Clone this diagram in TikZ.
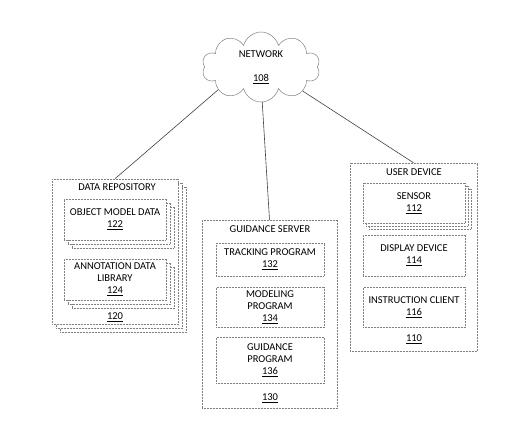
\documentclass[tikz,border=0pt]{standalone}
\usepackage{fontspec}
\setmainfont{Carlito}
\usetikzlibrary{shapes.symbols,shadows}
\begin{document}
\begin{tikzpicture}[x=1pt,y=-1pt,
  box/.style={draw=black!50,densely dotted,fill=white,line width=0.5pt,align=center,inner sep=0pt,font=\fontsize{10.5}{12}\selectfont},
  stack/.style={box,double copy shadow={shadow xshift=4pt,shadow yshift=-4pt,draw=black!50,densely dotted,line width=0.5pt}},
  lbl/.style={inner sep=0pt,font=\fontsize{10.5}{12}\selectfont},
  link/.style={draw=black!75,line width=0.6pt}]
  \useasboundingbox (0,0) rectangle (511,430);
  \node[cloud,cloud puffs=10,aspect=1.7,draw=black!50,line width=0.5pt,minimum width=118pt,minimum height=70pt,align=center,inner sep=0pt,font=\fontsize{10.5}{12}\selectfont] at (261,67) (net) {NETWORK\\[12pt]\underline{108}};

  \node[stack,minimum width=126pt,minimum height=145pt] at (115,251.5) (repo) {};
  \node[lbl] at (117,187) (repot) {DATA REPOSITORY};
  \node[stack,minimum width=102pt,minimum height=41pt] at (115,219.5) (obj) {OBJECT MODEL DATA\\\underline{122}};
  \node[stack,minimum width=102pt,minimum height=41pt] at (115,279.5) (ann) {ANNOTATION DATA\\LIBRARY\\\underline{124}};
  \node[lbl] at (115,317) (repon) {\underline{120}};

  \node[box,minimum width=135pt,minimum height=188pt] at (269.5,314) (srv) {};
  \node[lbl] at (270,229) (srvt) {GUIDANCE SERVER};
  \node[box,minimum width=108pt,minimum height=33pt] at (270,259.5) (trk) {TRACKING PROGRAM\\\underline{132}};
  \node[box,minimum width=108pt,minimum height=40pt] at (270,307) (mod) {MODELING\\PROGRAM\\\underline{134}};
  \node[box,minimum width=108pt,minimum height=46pt] at (270,360) (gdp) {GUIDANCE\\PROGRAM\\\underline{136}};
  \node[lbl] at (270,398) (srvn) {\underline{130}};

  \node[box,minimum width=127pt,minimum height=188pt] at (413.5,257) (usr) {};
  \node[lbl] at (414,172) (usrt) {USER DEVICE};
  \node[box,double copy shadow={shadow xshift=3pt,shadow yshift=-3pt,draw=black!50,densely dotted,line width=0.5pt},minimum width=102pt,minimum height=40pt] at (414,203) (sns) {SENSOR\\\underline{112}};
  \node[box,minimum width=102pt,minimum height=41pt] at (414,255.5) (dsp) {DISPLAY DEVICE\\\underline{114}};
  \node[box,minimum width=102pt,minimum height=40pt] at (414,307) (ins) {INSTRUCTION CLIENT\\\underline{116}};
  \node[lbl] at (414,339) (usrn) {\underline{110}};

  \draw[link] (net.208) -- (repo.north);
  \draw[link] (net.272) -- (srv.north);
  \draw[link] (net.330) -- (usr.north);
\end{tikzpicture}
\end{document}
